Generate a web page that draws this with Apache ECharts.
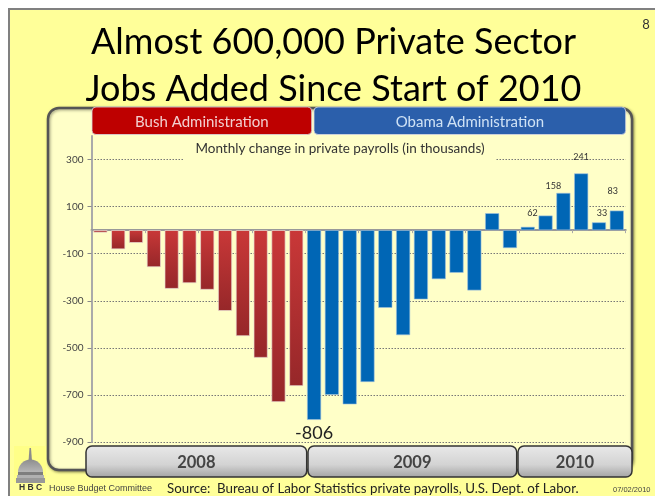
<!DOCTYPE html>
<html>
<head>
<meta charset="utf-8">
<style>html,body{margin:0;padding:0;background:#fff}#chart{width:655px;height:496px}</style>
<script src="https://cdn.jsdelivr.net/npm/echarts@6/dist/echarts.min.js"></script>
</head>
<body>
<div id="chart"></div>
<script>
// Monthly change in private payrolls, in thousands
const months = ['Jan 08','Feb 08','Mar 08','Apr 08','May 08','Jun 08','Jul 08','Aug 08','Sep 08','Oct 08','Nov 08','Dec 08',
  'Jan 09','Feb 09','Mar 09','Apr 09','May 09','Jun 09','Jul 09','Aug 09','Sep 09','Oct 09','Nov 09','Dec 09',
  'Jan 10','Feb 10','Mar 10','Apr 10','May 10','Jun 10'];
const payrolls = [-10,-81,-54,-157,-249,-225,-253,-343,-450,-542,-730,-662,
  -806,-700,-740,-645,-330,-446,-294,-208,-181,-256,72,-76,
  14,62,158,241,33,83];
const tickValues = [-900,-700,-500,-300,-100,100,300];
const bushMonthCount = 12;
const labelledMonths = ['Jan 09','Feb 10','Mar 10','Apr 10','May 10','Jun 10'];

// Where each printed value sits relative to its bar
const labelPlacement = {
  'Jan 09': {position:'bottom', distance:4, offset:[0,0], fontSize:18, color:'#222'},
  'Feb 10': {position:'top', distance:0, offset:[-13,2]},
  'Mar 10': {position:'top', distance:0, offset:[-10,-2]},
  'Apr 10': {position:'top', distance:0, offset:[0,-12]},
  'May 10': {position:'top', distance:0, offset:[3,-5]},
  'Jun 10': {position:'top', distance:0, offset:[-4,-15]}
};

const SANS = 'Lato, "Open Sans", sans-serif';
const redFill = new echarts.graphic.LinearGradient(0,0,0,1,[{offset:0,color:'#C93838'},{offset:1,color:'#962729'}]);

const barData = payrolls.map((v,i)=>{
  const item = {
    value:v,
    itemStyle: i < bushMonthCount
      ? {color:redFill, borderColor:'#E9DCD2', borderWidth:0.7}
      : {color:'#0066B5', borderColor:'#9DBFDD', borderWidth:0.6}
  };
  if (labelledMonths.includes(months[i])) {
    item.label = Object.assign({show:true, fontSize:9, color:'#333', fontFamily:SANS}, labelPlacement[months[i]]);
  }
  return item;
});

function yearBox(x, w, text){
  return [
    {type:'rect', z:3, shape:{x:x,y:446,width:w,height:31,r:6},
     style:{fill:new echarts.graphic.LinearGradient(0,0,0,1,[{offset:0,color:'#E9E9E9'},{offset:0.6,color:'#D3D3D3'},{offset:1,color:'#A2A2A2'}]),
            stroke:'#333',lineWidth:1.5}},
    {type:'text', z:4, x:x+w/2, y:463, style:{text:text,fill:'#444',font:'bold 16.5px '+SANS,align:'center',verticalAlign:'middle'}}
  ];
}
function header(x, w, fill, textFill, text){
  return [
    {type:'rect', z:3, shape:{x:x,y:107,width:w,height:27.5,r:4}, style:{fill:fill,stroke:'#D8D8E0',lineWidth:0.8}},
    {type:'text', z:4, x:x+w/2, y:122, style:{text:text,fill:textFill,font:'15px '+SANS,align:'center',verticalAlign:'middle'}}
  ];
}
function footerText(x, y, text, font, fill, align){
  return {type:'text', z:4, x:x, y:y, style:{text:text,font:font,fill:fill,align:align||'left',verticalAlign:'middle'}};
}
const domeGray = new echarts.graphic.LinearGradient(0,0,0,1,[{offset:0,color:'#8E8E8E'},{offset:1,color:'#B5B5B5'}]);
// Capitol dome emblem
const emblem = [
  {type:'rect', z:1, shape:{x:14,y:446,width:32,height:36}, style:{fill:'#FFFF88'}},
  {type:'polygon', z:2, shape:{points:[[29.5,448],[31,448],[32,461],[28.5,461]]}, style:{fill:'#8C8C8C'}},
  {type:'sector', z:2, shape:{cx:30.5,cy:472,r:12.5,r0:0,startAngle:Math.PI,endAngle:2*Math.PI}, style:{fill:domeGray}},
  {type:'rect', z:2, shape:{x:18,y:472,width:25,height:3}, style:{fill:'#7E7E7E'}},
  {type:'rect', z:2, shape:{x:17,y:475,width:27,height:3}, style:{fill:'#B0B0B0'}},
  {type:'rect', z:2, shape:{x:16,y:478,width:29,height:5}, style:{fill:'#989898'}}
];

const chart = echarts.init(document.getElementById('chart'), null, {renderer:'canvas'});
chart.setOption({
  animation:false,
  backgroundColor:'#fff',
  title:{
    text:'Almost 600,000 Private Sector\nJobs Added Since Start of 2010',
    left:328.5, top:14, textAlign:'center',
    textStyle:{fontFamily:SANS,fontWeight:'normal',fontSize:36,lineHeight:47,color:'#000'}
  },
  grid:{left:91.5,right:29.3,top:136,bottom:54,containLabel:false},
  xAxis:{
    type:'category', data:months,
    axisLine:{onZero:true,lineStyle:{color:'#999',width:2}},
    axisTick:{show:true,length:3,lineStyle:{color:'#aaa'}},
    axisLabel:{show:false},
    splitLine:{show:false}
  },
  yAxis:{
    type:'value', min:-900, max:400,
    axisLine:{show:true,lineStyle:{color:'#AAA',width:2}},
    axisTick:{show:true,length:4,inside:false,customValues:tickValues,lineStyle:{color:'#888'}},
    axisLabel:{show:true,customValues:tickValues,margin:8,fontFamily:SANS,fontSize:10,color:'#444'},
    splitLine:{show:true,lineStyle:{color:'#777',type:[1.5,1.5],width:1}}
  },
  series:[{
    type:'bar', data:barData, barWidth:14, z:2
  }],
  graphic:[
    {type:'rect', z:-1, shape:{x:9,y:9,width:660,height:500}, style:{fill:'#FFFF99',stroke:'#808080',lineWidth:2}},
    {type:'rect', z:-1, shape:{x:48,y:108,width:584,height:362,r:11},
     style:{fill:'#FFFFC8',stroke:'#555',lineWidth:2.5,shadowBlur:3,shadowColor:'rgba(0,0,0,0.4)',shadowOffsetX:1,shadowOffsetY:1}},
    ...header(92,219.7,'#BE0000','#F2CFCF','Bush Administration'),
    ...header(314,311.7,'#2B5FAB','#CFE2F5','Obama Administration'),
    {type:'rect', z:3, shape:{x:184,y:141,width:311,height:21}, style:{fill:'#FFFFC8'}},
    {type:'text', z:4, x:340, y:149, style:{text:'Monthly change in private payrolls (in thousands)',fill:'#333',font:'13.5px '+SANS,align:'center',verticalAlign:'middle'}},
    ...yearBox(86,220.7,'2008'),
    ...yearBox(308,208.7,'2009'),
    ...yearBox(518,114,'2010'),
    ...emblem,
    footerText(19,488,'H B C','bold 8.5px "Liberation Sans"','#333'),
    footerText(49,489,'House Budget Committee','9px "Liberation Sans"','#444'),
    footerText(167,489,'Source:  Bureau of Labor Statistics private payrolls, U.S. Dept. of Labor.','13.3px '+SANS,'#222'),
    footerText(613,490,'07/02/2010','7.5px "Liberation Sans"','#444'),
    footerText(646,25,'8','13px '+SANS,'#333','center')
  ]
});
</script>
</body>
</html>
